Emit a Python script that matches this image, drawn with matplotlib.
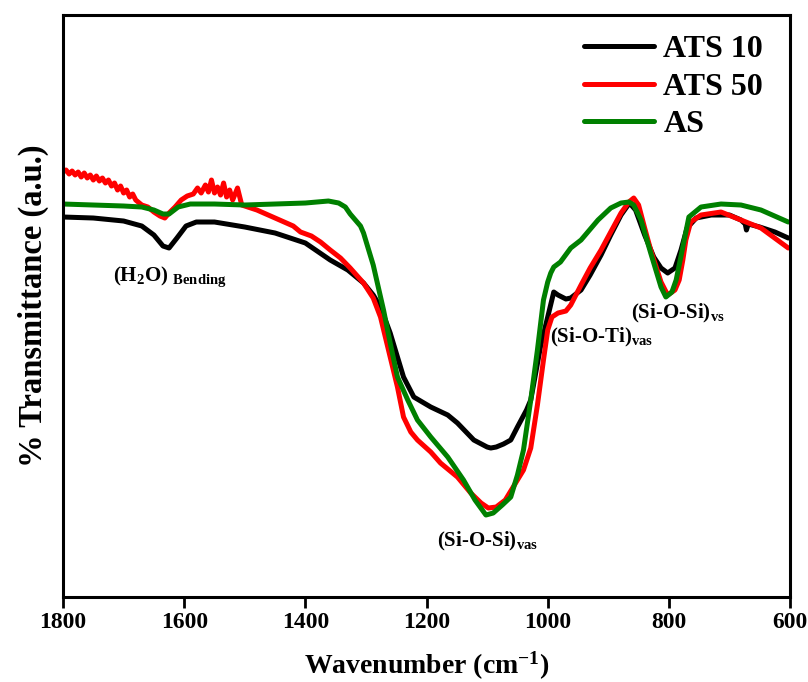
import matplotlib
matplotlib.use("Agg")
import matplotlib.pyplot as plt

# FTIR spectra (wavenumber in cm-1, transmittance in arbitrary units)
wn_ats10 = [1800, 1750, 1700, 1670, 1650, 1635, 1625, 1612, 1597, 1580, 1550, 1500,
            1450, 1400, 1359, 1330, 1304, 1288, 1276, 1260, 1248, 1238, 1221, 1193,
            1165, 1149, 1122, 1100, 1094, 1085, 1073, 1061, 1050, 1035, 1028, 1012,
            1000, 990, 983, 970, 962, 945, 930, 912, 896, 879, 865, 855, 840, 825,
            813, 802, 790, 780, 770, 755, 730, 700, 681, 674, 672, 669, 650, 625, 603]
t_ats10 = [383, 382, 379, 374, 365, 354, 352, 362, 374, 378, 378, 373,
           367, 357, 340, 330, 317, 305, 293, 267, 243, 223, 203, 193,
           185, 177, 160, 153, 152, 153, 156, 160, 173, 190, 200, 253,
           283, 308, 305, 301, 302, 310, 325, 345, 365, 385, 397, 390, 365, 343,
           332, 327, 332, 350, 372, 382, 385, 385, 380, 376, 370, 376, 373, 368, 362]

wn_ats50 = [1800, 1795, 1790, 1785, 1780, 1775, 1770, 1765, 1760, 1755, 1750, 1745,
            1740, 1735, 1730, 1725, 1720, 1715, 1710, 1705, 1700, 1695, 1690, 1685,
            1680, 1670, 1660, 1650, 1640, 1632, 1625, 1615, 1605, 1595, 1585, 1578,
            1572, 1565, 1560, 1555, 1550, 1545, 1540, 1535, 1530, 1525, 1520, 1512,
            1505, 1495, 1480, 1465, 1450, 1435, 1420, 1408, 1390, 1375, 1359, 1342,
            1326, 1304, 1288, 1276, 1260, 1248, 1238, 1226, 1215, 1193, 1177, 1149,
            1127, 1110, 1098, 1085, 1070, 1055, 1040, 1028, 1017, 1007, 1000, 993,
            983, 970, 962, 945, 930, 912, 896, 879, 866, 858, 850, 840, 830, 813,
            802, 790, 783, 777, 772, 764, 747, 714, 681, 648, 603]
t_ats50 = [428, 430, 426, 429, 425, 428, 423, 427, 422, 425, 420, 424,
           419, 422, 417, 420, 414, 417, 410, 414, 407, 410, 403, 406,
           400, 395, 393, 388, 384, 382, 387, 393, 400, 404, 406, 412,
           407, 415, 408, 420, 407, 413, 405, 417, 403, 410, 400, 412,
           395, 393, 390, 386, 382, 378, 374, 368, 364, 358, 350, 342,
           332, 317, 302, 283, 243, 213, 183, 168, 160, 148, 137, 123,
           107, 97, 92, 93, 100, 115, 130, 152, 195, 240, 270, 283,
           287, 289, 295, 315, 332, 350, 368, 387, 398, 402, 395, 372, 350, 318,
           305, 310, 320, 340, 360, 378, 385, 388, 380, 372, 352]

wn_as = [1800, 1750, 1700, 1670, 1650, 1635, 1625, 1610, 1590, 1550, 1500, 1450,
         1400, 1362, 1345, 1334, 1326, 1309, 1304, 1288, 1271, 1260, 1248, 1231, 1215,
         1193, 1165, 1139, 1120, 1102, 1090, 1075, 1061, 1050, 1040, 1028, 1017,
         1007, 1000, 995, 990, 979, 962, 945, 917, 896, 879, 866, 858, 846, 830,
         813, 805, 795, 788, 777, 767, 747, 714, 681, 648, 603]
t_as = [396, 395, 394, 393, 390, 386, 386, 393, 396, 396, 395, 396,
        397, 399, 397, 393, 386, 374, 367, 335, 290, 257, 223, 200, 180,
        163, 143, 120, 100, 85, 87, 95, 103, 125, 150, 200, 250,
        300, 318, 327, 333, 338, 352, 360, 380, 392, 397, 398, 395, 380, 347,
        313, 303, 308, 320, 353, 383, 393, 396, 395, 390, 378]

series = [("ATS 10", wn_ats10, t_ats10, "black"),
          ("ATS 50", wn_ats50, t_ats50, "red"),
          ("AS", wn_as, t_as, "green")]

# band labels: text, wavenumber, transmittance
bands = [(r"(H$\mathregular{_2}$O) $\mathregular{_{Bending}}$", 1717, 319),
         (r"(Si-O-Ti)$\mathregular{_{vas}}$", 997, 258),
         (r"(Si-O-Si)$\mathregular{_{vs}}$", 863, 282),
         (r"(Si-O-Si)$\mathregular{_{vas}}$", 1182, 54)]

plt.rcParams["font.family"] = "Liberation Serif"
plt.rcParams["font.weight"] = "bold"

fig = plt.figure(figsize=(8.08, 6.82), dpi=100)
ax = fig.add_axes([0.078, 0.1246, 0.8998, 0.8534])

for name, x, y, c in series:
    ax.plot(x, y, color=c, lw=3.6, label=name, solid_capstyle="round",
            solid_joinstyle="round")

for txt, x, y in bands:
    ax.text(x, y, txt, fontsize=15, fontweight="bold", va="baseline", ha="left")

ax.set_xlim(1800, 600)
ax.set_ylim(3, 585)
ax.set_yticks([])
ax.set_xticks([1800, 1600, 1400, 1200, 1000, 800, 600])
ax.tick_params(axis="x", direction="out", length=8, width=2, labelsize=17, pad=3)
for lab in ax.get_xticklabels():
    lab.set_fontweight("bold")
for s in ax.spines.values():
    s.set_linewidth(2.2)

ax.set_xlabel(r"Wavenumber (cm$\mathregular{^{-1}}$)", fontsize=20, fontweight="bold", labelpad=12)
ax.set_ylabel("% Transmittance (a.u.)", fontsize=23.5, fontweight="bold", labelpad=10)

ax.legend(loc="upper right", frameon=False, prop={"size": 23, "weight": "bold"},
          handlelength=2.2, handletextpad=0.3, labelspacing=0.25,
          borderaxespad=0.1, bbox_to_anchor=(0.985, 0.993))

fig.savefig("out.png", dpi=100)
